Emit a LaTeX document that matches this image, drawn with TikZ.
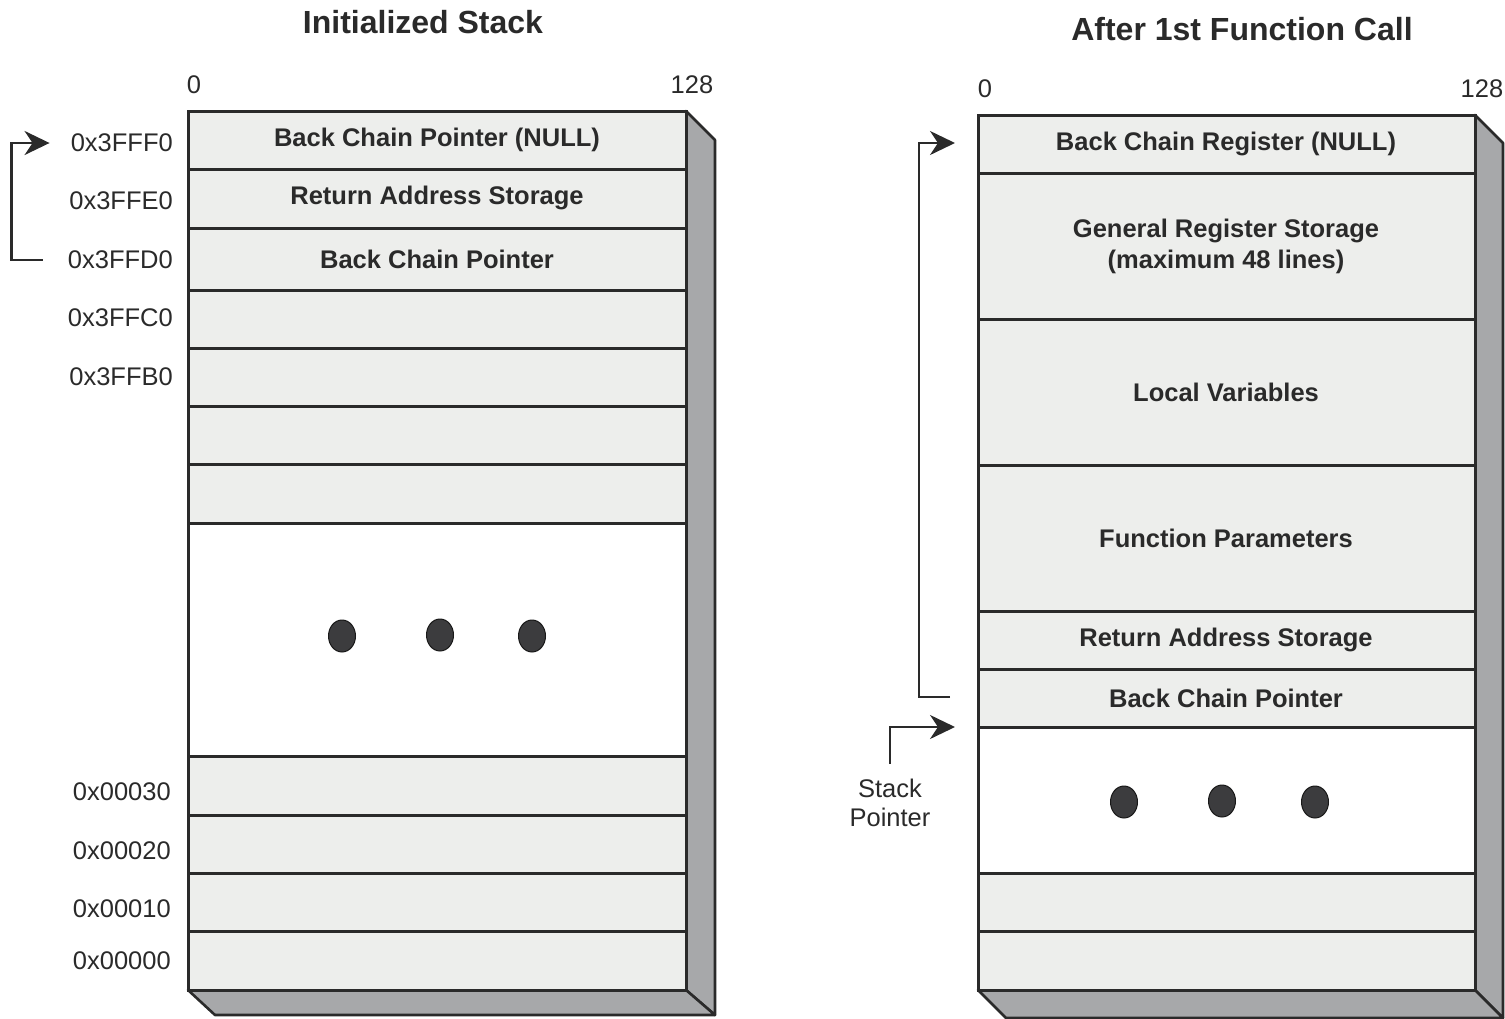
\documentclass[tikz,border=0pt]{standalone}
\usepackage{fontspec}
\setmainfont{Liberation Sans}
\usetikzlibrary{arrows.meta}
\definecolor{ink}{HTML}{2A2A2A}
\definecolor{cellfill}{HTML}{EDEEEC}
\definecolor{sidefill}{HTML}{A7A8AA}
\definecolor{dotfill}{HTML}{3C3C3E}
\begin{document}
\begin{tikzpicture}[x=1pt,y=-1pt,
  edge/.style={draw=ink, line width=3pt, line join=miter},
  rowline/.style={draw=ink, line width=3pt},
  face/.style={fill=sidefill, draw=ink, line width=2.6pt, line join=round},
  title/.style={font=\fontsize{32}{36}\selectfont\bfseries, text=ink, inner sep=0pt},
  celltext/.style={font=\fontsize{25.5}{31}\selectfont\bfseries, text=ink, align=center, inner sep=0pt},
  addr/.style={font=\fontsize{25.5}{30}\selectfont, text=ink, anchor=east, inner sep=0pt},
  scale label/.style={font=\fontsize{25.5}{30}\selectfont, text=ink, inner sep=0pt},
  ellipsis dot/.style={fill=dotfill, draw=black!90, line width=1pt},
  ptr/.style={draw=ink, line width=2.8pt, -{Stealth[length=25pt,width=24pt,inset=8pt]}}]

\useasboundingbox (0,0) rectangle (1505,1018);

% ---------- left stack: initialized ----------
\node[title] (ltitle) at (423,22) {Initialized Stack};
\node[scale label] (lzero) at (194,85) {0};
\node[scale label] (lmax) at (692,85) {128};

% 3-D faces
\path[face] (686,111) -- (715,140) -- (715,1015) -- (686,990) -- cycle;
\path[face] (188,990) -- (686,990) -- (715,1015) -- (215,1015) -- cycle;

% cells
\fill[cellfill] (188,111) rectangle (686,523);
\fill[white] (188,523) rectangle (686,756);
\fill[cellfill] (188,756) rectangle (686,990);
\foreach \y in {169,228,290,348,406,464,523,756,815,873,931}
  \draw[rowline] (188,\y) -- (686,\y);
\draw[edge] (188,111) rectangle (686,990);

\node[celltext] (lbcnull) at (437,140) {Back Chain Pointer (NULL)};
\node[celltext] (lret) at (437,198) {Return Address Storage};
\node[celltext] (lbc) at (437,259) {Back Chain Pointer};

\fill[ellipsis dot] (342,636) ellipse [x radius=13.5, y radius=16];
\fill[ellipsis dot] (440,635) ellipse [x radius=13.5, y radius=16];
\fill[ellipsis dot] (532,636) ellipse [x radius=13.5, y radius=16];

% addresses
\node[addr] (a3FFF0) at (173,143) {0x3FFF0};
\node[addr] (a3FFE0) at (173,201) {0x3FFE0};
\node[addr] (a3FFD0) at (173,260) {0x3FFD0};
\node[addr] (a3FFC0) at (173,318) {0x3FFC0};
\node[addr] (a3FFB0) at (173,377) {0x3FFB0};
\node[addr] (a00030) at (171,792) {0x00030};
\node[addr] (a00020) at (171,851) {0x00020};
\node[addr] (a00010) at (171,909) {0x00010};
\node[addr] (a00000) at (171,961) {0x00000};

% back chain link
\coordinate (lfrom) at ([xshift=-25pt]a3FFD0.west);
\coordinate (lto) at ([xshift=-21pt]a3FFF0.west);
\draw[ptr] (lfrom) -- ++(-31,0) |- (lto);

% ---------- right stack: after first call ----------
\node[title] (rtitle) at (1242,29) {After 1st Function Call};
\node[scale label] (rzero) at (985,89) {0};
\node[scale label] (rmax) at (1482,89) {128};

\path[face] (1475,115) -- (1503,143) -- (1503,1018) -- (1475,990) -- cycle;
\path[face] (978,990) -- (1475,990) -- (1503,1018) -- (1006,1018) -- cycle;

\fill[cellfill] (978,115) rectangle (1475,727);
\fill[white] (978,727) rectangle (1475,873);
\fill[cellfill] (978,873) rectangle (1475,990);
\foreach \y in {173,319,465,611,669,727,873,931}
  \draw[rowline] (978,\y) -- (1475,\y);
\draw[edge] (978,115) rectangle (1475,990);

\node[celltext] (rbcnull) at (1226,144) {Back Chain Register (NULL)};
\node[celltext] (rgrs) at (1226,246) {General Register Storage\\(maximum 48 lines)};
\node[celltext] (rloc) at (1226,392) {Local Variables};
\node[celltext] (rpar) at (1226,538) {Function Parameters};
\node[celltext] (rret) at (1226,640) {Return Address Storage};
\node[celltext] (rbc) at (1226,698) {Back Chain Pointer};

\fill[ellipsis dot] (1124,802) ellipse [x radius=13.5, y radius=16];
\fill[ellipsis dot] (1222,801) ellipse [x radius=13.5, y radius=16];
\fill[ellipsis dot] (1315,802) ellipse [x radius=13.5, y radius=16];

% back chain link and stack pointer
\coordinate (rfrom) at (950,697);
\coordinate (rto) at (955,143);
\draw[ptr] (rfrom) -- ++(-31,0) |- (rto);

\node[scale label, align=center] (sp) at (890,803) {Stack\\[-1pt]Pointer};
\coordinate (spto) at (955,727);
\draw[ptr] ([yshift=15pt]sp.north) |- (spto);
\end{tikzpicture}
\end{document}
